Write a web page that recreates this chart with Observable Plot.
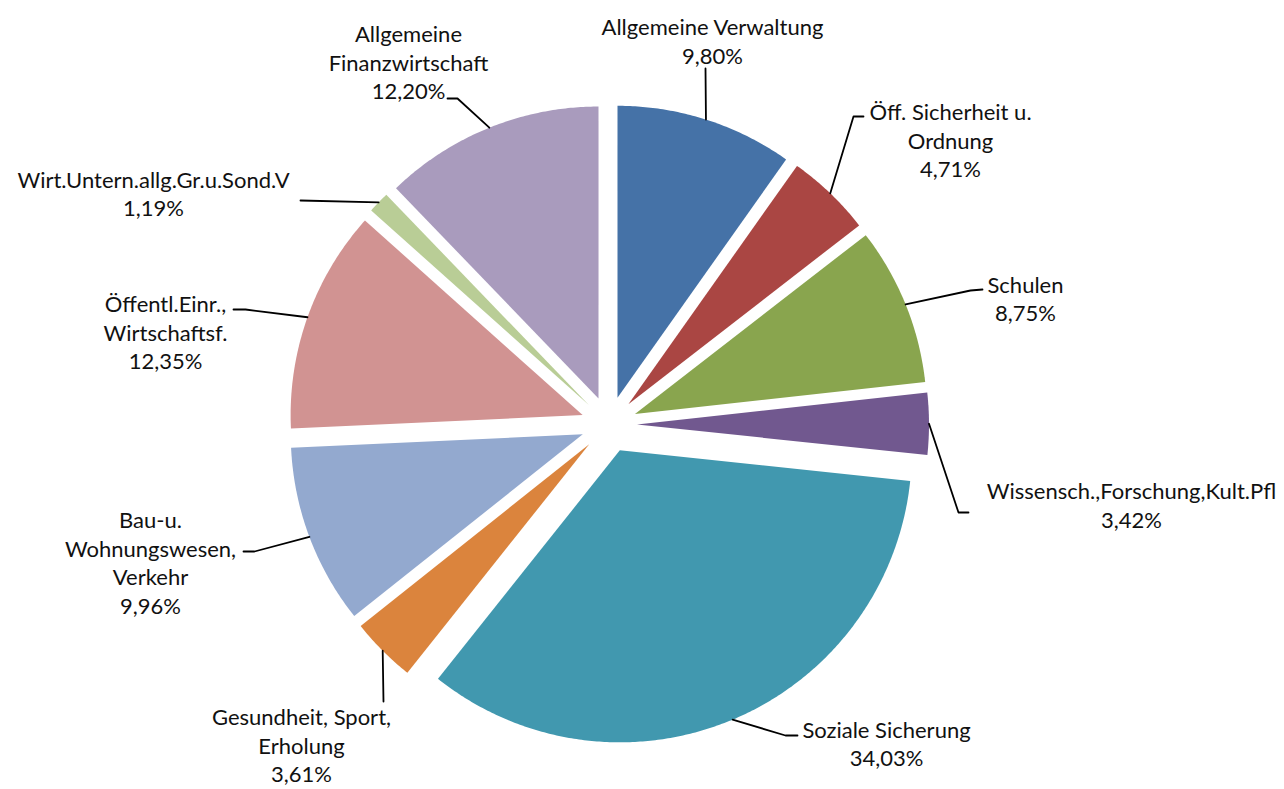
<!DOCTYPE html>
<html>
<head>
<meta charset="utf-8">
<script src="https://cdn.jsdelivr.net/npm/d3@7"></script>
<script src="https://cdn.jsdelivr.net/npm/@observablehq/plot@0.6"></script>
<style>
  html, body { margin: 0; padding: 0; background: #fff; }
  #chart { width: 1284px; height: 789px; overflow: hidden; }
</style>
</head>
<body>
<div id="chart"></div>
<script>
// ---- data ----
const categories = [
  "Allgemeine Verwaltung",
  "Öff. Sicherheit u. Ordnung",
  "Schulen",
  "Wissensch.,Forschung,Kult.Pfl",
  "Soziale Sicherung",
  "Gesundheit, Sport, Erholung",
  "Bau-u. Wohnungswesen, Verkehr",
  "Öffentl.Einr., Wirtschaftsf.",
  "Wirt.Untern.allg.Gr.u.Sond.V",
  "Allgemeine Finanzwirtschaft"
];
const shares = [9.80, 4.71, 8.75, 3.42, 34.03, 3.61, 9.96, 12.35, 1.19, 12.20];
const labelLines = [
  ["Allgemeine Verwaltung"],
  ["Öff. Sicherheit u.", "Ordnung"],
  ["Schulen"],
  ["Wissensch.,Forschung,Kult.Pfl"],
  ["Soziale Sicherung"],
  ["Gesundheit, Sport,", "Erholung"],
  ["Bau-u.", "Wohnungswesen,", "Verkehr"],
  ["Öffentl.Einr.,", "Wirtschaftsf."],
  ["Wirt.Untern.allg.Gr.u.Sond.V"],
  ["Allgemeine", "Finanzwirtschaft"]
];
const colors = ["#4572A7", "#AA4643", "#89A54E", "#71588F", "#4198AF",
                "#DB843D", "#93A9CF", "#D19392", "#B9CD96", "#A99BBD"];

// ---- layout (pixels, relative to pie centre; y downward) ----
const W = 1284, H = 789;
const CX = 608.5, CY = 424, R = 292, EXPLODE = 28;
const labelPos = [[103.5,-384],[341.5,-285],[416.5,-126.5],[522.5,80],[277.5,318.5],
                  [-307.5,320],[-458.5,137.5],[-443.5,-93],[-455.5,-231.5],[-200.5,-363]];
const leaderElbow = [[96.5,-356],[244.5,-308],[361.5,-134],[349.5,88],[176.5,311],
                     [-225.5,277],[-354.5,127],[-363.5,-115],[-308.5,-224],[-151.5,-326]];
const leaderEnd = [[96.5,-356],[254.5,-308],[373.5,-135],[359.5,88],[188.5,311],
                   [-225.5,277],[-365.5,127],[-375.5,-115],[-308.5,-224],[-161.5,-326]];

const fmt = v => v.toFixed(2).replace(".", ",") + "%";

const arcs = d3.pie().sort(null).startAngle(0).endAngle(2 * Math.PI)(shares);

const slicePts = [];
const leaderPts = [];
const labels = [];
arcs.forEach((a, i) => {
  const name = categories[i];
  const mid = (a.startAngle + a.endAngle) / 2;
  const ox = EXPLODE * Math.sin(mid), oy = -EXPLODE * Math.cos(mid);
  slicePts.push({name, x: ox, y: oy});
  const steps = Math.max(4, Math.ceil((a.endAngle - a.startAngle) / (Math.PI / 360)));
  for (let k = 0; k <= steps; k++) {
    const t = a.startAngle + (a.endAngle - a.startAngle) * k / steps;
    slicePts.push({name, x: ox + R * Math.sin(t), y: oy - R * Math.cos(t)});
  }
  slicePts.push({name, x: ox, y: oy});
  // leader line
  const ax = ox + R * Math.sin(mid), ay = oy - R * Math.cos(mid);
  leaderPts.push({name, x: ax, y: ay});
  leaderPts.push({name, x: leaderElbow[i][0], y: leaderElbow[i][1]});
  leaderPts.push({name, x: leaderEnd[i][0], y: leaderEnd[i][1]});
  labels.push({name, x: labelPos[i][0], y: labelPos[i][1],
               text: labelLines[i].concat([fmt(shares[i])]).join("\n")});
});

const chart = Plot.plot({
  width: W,
  height: H,
  margin: 0,
  x: {domain: [-CX, W - CX], range: [0, W], axis: null},
  y: {domain: [-CY, H - CY], range: [0, H], axis: null},
  color: {domain: categories, range: colors},
  style: {fontFamily: "Lato, 'Liberation Sans', sans-serif", background: "#fff"},
  marks: [
    Plot.line(slicePts, {x: "x", y: "y", z: "name", fill: "name", stroke: "none", curve: "linear"}),
    Plot.line(leaderPts, {x: "x", y: "y", z: "name", stroke: "#000", strokeWidth: 1.8, curve: "linear"}),
    Plot.text(labels, {x: "x", y: "y", text: "text", fontSize: 22, lineHeight: 1.3,
                       lineAnchor: "middle", textAnchor: "middle", fill: "#111"})
  ]
});
document.getElementById("chart").appendChild(chart);
</script>
</body>
</html>
